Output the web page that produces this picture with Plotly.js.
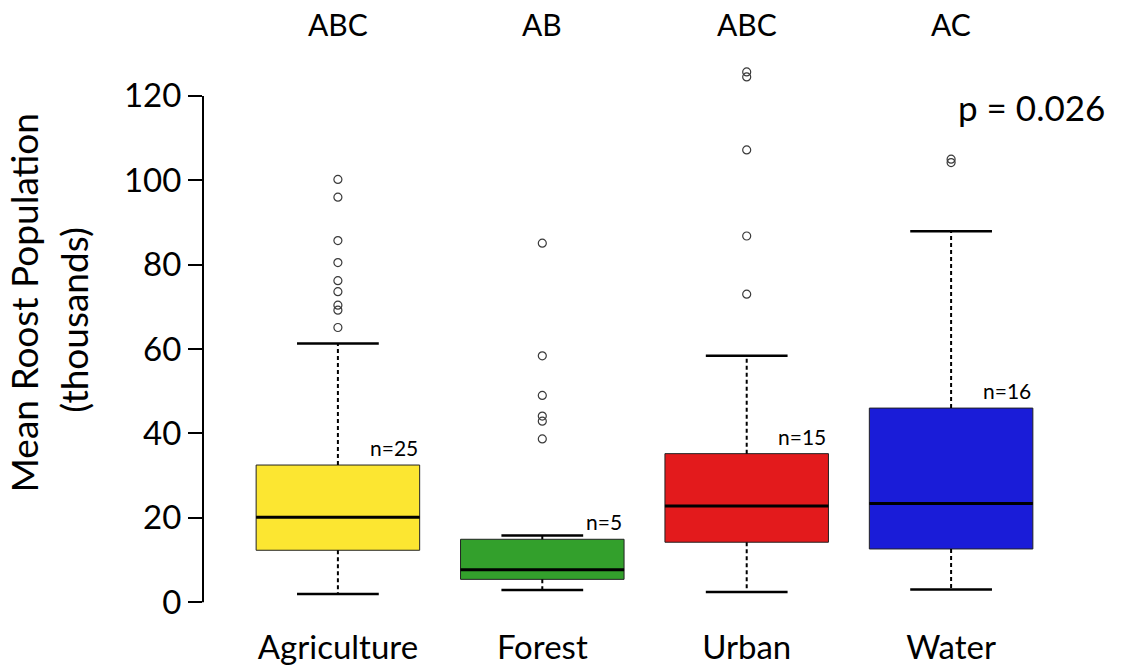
<!DOCTYPE html>
<html>
<head>
<meta charset="utf-8">
<script src="https://cdn.plot.ly/plotly-3.0.1.min.js"></script>
<style>html,body{margin:0;padding:0;background:#fff;}#chart{width:1121px;height:670px;}</style>
</head>
<body>
<div id="chart"></div>
<script>
// ---- data ----
const categories = ['Agriculture', 'Forest', 'Urban', 'Water'];
const groupLetters = ['ABC', 'AB', 'ABC', 'AC'];
const nLabels = ['n=25', 'n=5', 'n=15', 'n=16'];
const lowerWhisker = [1.9, 2.85, 2.4, 3.0];
const q1 = [12.3, 5.4, 14.2, 12.6];
const medians = [20.1, 7.7, 22.8, 23.4];
const q3 = [32.5, 14.9, 35.2, 46.0];
const upperWhisker = [61.3, 15.8, 58.4, 87.9];
const outliersAgriculture = [100.2, 96.0, 85.7, 80.5, 76.2, 73.6, 70.4, 69.2, 65.1];
const outliersForest = [85.1, 58.4, 49.0, 44.1, 42.9, 38.7];
const outliersUrban = [125.7, 124.5, 107.2, 86.8, 73.0];
const outliersWater = [105.0, 104.2];
const yTickVals = [0, 20, 40, 60, 80, 100, 120];
const yTitleLines = ['Mean Roost Population', '(thousands)'];
const pValueText = 'p = 0.026';

// ---- styling ----
const boxColors = ['#FCE631', '#33A02C', '#E31A1C', '#1A1CD8'];
const FONT = 'Lato, "Open Sans", "DejaVu Sans", sans-serif';
const BOX_W = 0.8, CAP_W = 0.4;

const outliers = [outliersAgriculture, outliersForest, outliersUrban, outliersWater];
const pos = categories.map((c, i) => i + 1);

const traces = [];
categories.forEach((c, i) => {
  traces.push({
    type: 'box', name: c, x: [pos[i]],
    q1: [q1[i]], median: [medians[i]], q3: [q3[i]],
    lowerfence: [q1[i]], upperfence: [q3[i]],
    width: BOX_W, whiskerwidth: 0, boxpoints: false,
    fillcolor: boxColors[i], line: {color: '#222', width: 1},
    hoverinfo: 'skip', showlegend: false
  });
});

const wx = [], wy = [], cx = [], cy = [], mx = [], my = [], ox = [], oy = [];
categories.forEach((c, i) => {
  const p = pos[i];
  wx.push(p, p, null, p, p, null);
  wy.push(q3[i], upperWhisker[i], null, q1[i], lowerWhisker[i], null);
  cx.push(p - CAP_W / 2, p + CAP_W / 2, null, p - CAP_W / 2, p + CAP_W / 2, null);
  cy.push(upperWhisker[i], upperWhisker[i], null, lowerWhisker[i], lowerWhisker[i], null);
  mx.push(p - BOX_W / 2, p + BOX_W / 2, null);
  my.push(medians[i], medians[i], null);
  outliers[i].forEach(v => { ox.push(p); oy.push(v); });
});
// dashed whiskers
traces.push({type: 'scatter', mode: 'lines', x: wx, y: wy, line: {color: '#000', width: 2, dash: '4px,3px'}, hoverinfo: 'skip', showlegend: false});
// whisker caps
traces.push({type: 'scatter', mode: 'lines', x: cx, y: cy, line: {color: '#000', width: 2.5}, hoverinfo: 'skip', showlegend: false});
// medians
traces.push({type: 'scatter', mode: 'lines', x: mx, y: my, line: {color: '#000', width: 3}, hoverinfo: 'skip', showlegend: false});
// outliers
traces.push({type: 'scatter', mode: 'markers', x: ox, y: oy, cliponaxis: false,
  marker: {symbol: 'circle-open', size: 8, color: '#3a3a3a', line: {width: 1.2}}, hoverinfo: 'y', showlegend: false});

const annotations = [];
categories.forEach((c, i) => {
  annotations.push({x: pos[i], xref: 'x', y: 1, yref: 'paper', yshift: 27, yanchor: 'middle', xanchor: 'center',
    text: groupLetters[i], showarrow: false, font: {family: FONT, size: 30, color: '#000'}});
  annotations.push({x: pos[i] + BOX_W / 2, xref: 'x', y: q3[i], yref: 'y', yshift: 3, yanchor: 'bottom', xanchor: 'right',
    text: nLabels[i], showarrow: false, font: {family: FONT, size: 21, color: '#000'}});
});
annotations.push({x: 1.024, xref: 'paper', y: 0.9, yref: 'paper', xanchor: 'right', yanchor: 'middle',
  text: pValueText, showarrow: false, font: {family: FONT, size: 35, color: '#000'}});
annotations.push({x: -0.2035, xref: 'paper', y: 0.553, yref: 'paper', xanchor: 'center', yanchor: 'middle', textangle: -90,
  text: yTitleLines[0], showarrow: false, font: {family: FONT, size: 37, color: '#000'}});
annotations.push({x: -0.1475, xref: 'paper', y: 0.523, yref: 'paper', xanchor: 'center', yanchor: 'middle', textangle: -90,
  text: yTitleLines[1], showarrow: false, font: {family: FONT, size: 37, color: '#000'}});

const layout = {
  width: 1121, height: 670,
  margin: {l: 203, r: 35, t: 51, b: 55},
  paper_bgcolor: '#fff', plot_bgcolor: '#fff',
  font: {family: FONT, color: '#000'},
  showlegend: false,
  xaxis: {
    type: 'linear', range: [0.34, 4.66], tickvals: pos, ticktext: categories,
    showline: false, showgrid: false, zeroline: false, ticks: '',
    tickfont: {family: FONT, size: 33, color: '#000'}, ticklabelstandoff: 10
  },
  yaxis: {
    type: 'linear', range: [-3.05, 130.65], tickvals: yTickVals,
    showline: false, showgrid: false, zeroline: false,
    ticks: 'outside', ticklen: 14, tickwidth: 2, tickcolor: '#000',
    tickfont: {family: FONT, size: 33, color: '#000'}
  },
  shapes: [{type: 'line', xref: 'paper', x0: 0, x1: 0, yref: 'y',
    y0: yTickVals[0], y1: yTickVals[yTickVals.length - 1], line: {color: '#000', width: 2}, layer: 'above'}],
  annotations: annotations
};

Plotly.newPlot('chart', traces, layout, {displayModeBar: false, staticPlot: true});
</script>
</body>
</html>
